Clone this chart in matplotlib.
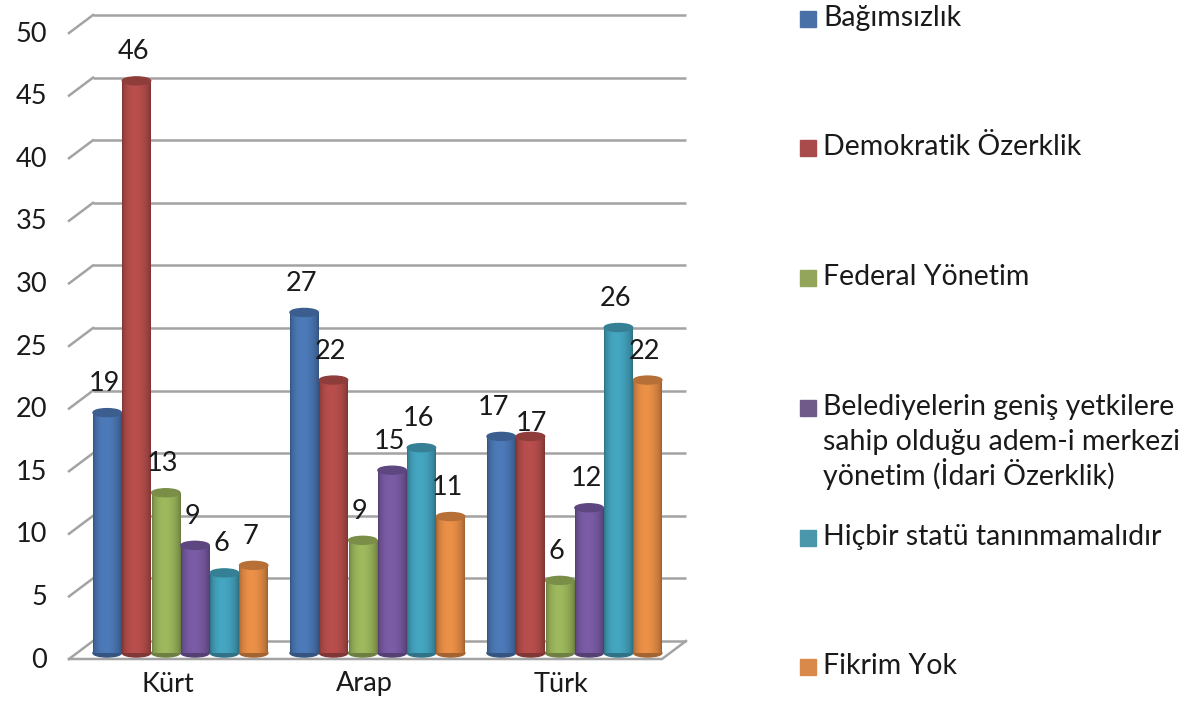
import numpy as np
import matplotlib.pyplot as plt
from matplotlib.colors import to_rgb
from matplotlib.patches import Ellipse, Rectangle

plt.rcParams['font.family'] = ['Lato', 'DejaVu Sans']

groups = ["Kürt", "Arap", "Türk"]
series = [
    "Bağımsızlık",
    "Demokratik Özerklik",
    "Federal Yönetim",
    "Belediyelerin geniş yetkilere\nsahip olduğu adem-i merkezi\nyönetim (İdari Özerklik)",
    "Hiçbir statü tanınmamalıdır",
    "Fikrim Yok",
]
# bar heights, one list per series (Kürt, Arap, Türk)
bagimsizlik = [19.2, 27.2, 17.3]
demokratik = [45.7, 21.8, 17.3]
federal = [12.8, 9.0, 5.8]
belediye = [8.6, 14.6, 11.6]
hicbir = [6.4, 16.4, 26.0]
fikrim_yok = [7.0, 10.9, 21.8]
values = [bagimsizlik, demokratik, federal, belediye, hicbir, fikrim_yok]

bar_colors = ["#4a76b2", "#b24c4a", "#98b25a", "#7659a0", "#42a0ba", "#e38b45"]
legend_colors = ["#4a70a8", "#a84b4a", "#93a55a", "#6f5a8a", "#4a96aa", "#d98a4a"]
yticks = list(range(0, 55, 5))

TXT = "#1a1a1a"
GRID = "#a3a3a3"
FS = 19.5

W, H = 1189, 718
fig = plt.figure(figsize=(W / 100, H / 100), dpi=100)

# axes = the plane in which the bars stand (pixel box)
left_px, right_px, base_px, top_px = 77, 670, 653, 14.5
ax = fig.add_axes([left_px / W, 1 - base_px / H, (right_px - left_px) / W,
                   (base_px - top_px) / H])
ax.set_xlim(-0.525, 2.485)
ax.set_ylim(0, 51)
ax.set_axis_off()


def shift(x, y, dx, dy):
    """Move a data point by (dx, dy) pixels, dy positive = up."""
    px, py = ax.transData.transform((x, y))
    return ax.transData.inverted().transform((px + dx, py + dy))


x0, x1 = ax.get_xlim()
FRONT = (-8, -6)
BACK = (16, 12)

# back wall grid lines and the slanted stubs on the left side wall
for v in yticks:
    a = shift(x0, v, *BACK)
    b = shift(x1, v, *BACK)
    ax.plot([a[0], b[0]], [a[1], b[1]], color=GRID, lw=1.8, clip_on=False,
            solid_capstyle="butt")
    f = shift(x0, v, *FRONT)
    ax.plot([f[0], a[0]], [f[1], a[1]], color=GRID, lw=1.8, clip_on=False)
    t = shift(x0, v, -8 - 22, -7)
    ax.text(t[0], t[1], str(v), ha="right", va="center", fontsize=FS,
            color=TXT)

# floor outline: front edge and right edge
fl = shift(x0, 0, *FRONT)
fr = shift(x1, 0, *FRONT)
br = shift(x1, 0, *BACK)
ax.plot([fl[0], fr[0], br[0]], [fl[1], fr[1], br[1]], color=GRID, lw=1.8,
        clip_on=False)

# cylinder shading profile across a bar
t = np.linspace(0, 1, 64)
shade = 0.68 + 0.36 * np.clip(np.sin(np.pi * t ** 0.85), 0, 1) ** 0.6

n = len(series)
width = 29.3 / 197
cap_h = 8 / (base_px - top_px) * 51
# a few labels sit off their usual spot in the reference (pixel nudges)
nudge = {(0, 2): (-5, 0), (1, 2): (4, -16)}

for i, (vals, col) in enumerate(zip(values, bar_colors)):
    xs = np.arange(len(groups)) + (i - (n - 1) / 2) * width
    rgb = np.array(to_rgb(col))
    grad = np.clip(rgb[None, None, :] * shade[None, :, None], 0, 1)
    bars = ax.bar(xs, vals, width=width * 0.97, color=col, lw=0, zorder=3,
                  clip_on=False)
    for j, (bar, v) in enumerate(zip(bars, vals)):
        bx = bar.get_x()
        bw = bar.get_width()
        ax.add_patch(Ellipse((bx + bw / 2, 0), bw, cap_h, color=rgb * 0.72,
                             zorder=2.9, clip_on=False))
        im = ax.imshow(grad, extent=(bx, bx + bw, 0, v), aspect="auto",
                       zorder=3.1, interpolation="bilinear")
        im.set_clip_path(bar)
        ax.add_patch(Ellipse((bx + bw / 2, v), bw, cap_h,
                             color=np.clip(rgb * 0.8, 0, 1), zorder=3.2,
                             clip_on=False))
        ndx, ndy = nudge.get((i, j), (0, 0))
        lp = shift(bx + bw / 2, v, -3 + ndx, 29 + ndy)
        ax.text(lp[0], lp[1], str(int(round(v))), ha="center", va="center",
                fontsize=FS, color=TXT, zorder=4)
# restore limits after imshow
ax.set_xlim(x0, x1)
ax.set_ylim(0, 51)

for j, g in enumerate(groups):
    p = shift(j, 0, -13, -31)
    ax.text(p[0], p[1], g, ha="center", va="center", fontsize=FS, color=TXT)

# legend, placed by hand to follow the reference layout
legend_y = [19, 148, 278, 408, 538, 667]
line_step = 35
for name, col, y in zip(series, legend_colors, legend_y):
    fig.patches.append(Rectangle((800 / W, 1 - (y + 8) / H), 16 / W, 16 / H,
                                 transform=fig.transFigure, color=col))
    for k, line in enumerate(name.split("\n")):
        fig.text(823 / W, 1 - (y + k * line_step + 7) / H, line, ha="left",
                 va="baseline", fontsize=20.5, color=TXT)

fig.savefig("out.png", dpi=100)
